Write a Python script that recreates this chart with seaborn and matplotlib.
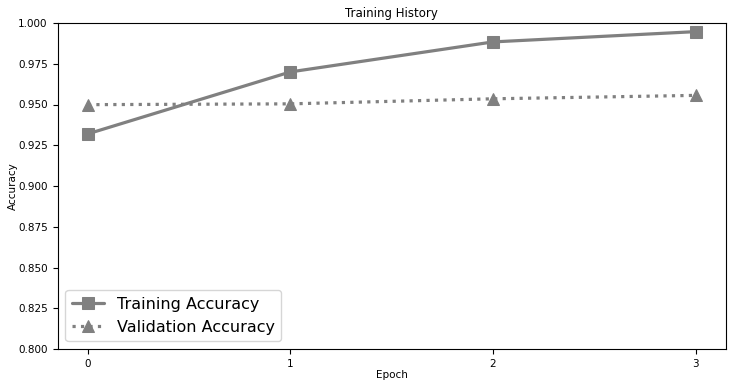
import matplotlib
matplotlib.use("Agg")
import matplotlib.pyplot as plt
import seaborn as sns
import pandas as pd

epochs = [0, 1, 2, 3]
train_acc = [0.932, 0.970, 0.9884, 0.9947]
val_acc = [0.9499, 0.9504, 0.9535, 0.9556]

sns.set_style("ticks")
plt.rcParams['font.family'] = ['DejaVu Sans']
plt.rcParams['text.color'] = 'black'
plt.rcParams['axes.labelcolor'] = 'black'

fig = plt.figure(figsize=(7.33, 3.87), dpi=100)
ax = fig.add_axes([57.5/733, 1-349/387, (726-57.5)/733, (349-23)/387])

df_t = pd.DataFrame({"Epoch": epochs, "Accuracy": train_acc})
df_v = pd.DataFrame({"Epoch": epochs, "Accuracy": val_acc})
sns.lineplot(data=df_t, x="Epoch", y="Accuracy", ax=ax, color="gray", linewidth=2.3,
             marker="s", markersize=8.5, markeredgecolor="gray", label="Training Accuracy")
sns.lineplot(data=df_v, x="Epoch", y="Accuracy", ax=ax, color="gray", linewidth=2.3,
             linestyle=":", marker="^", markersize=8.5, markeredgecolor="gray", label="Validation Accuracy")

yt = [0.8, 0.825, 0.85, 0.875, 0.9, 0.925, 0.95, 0.975, 1.0]
ax.set_ylim(0.8, 1.0)
ax.set_xticks(epochs)
ax.set_yticks(yt)
ax.set_yticklabels([f"{v:.3f}" for v in yt])
ax.tick_params(labelsize=7.5, length=3.5, width=0.8, colors="black")
for s in ax.spines.values():
    s.set_visible(True)
    s.set_linewidth(0.8)
    s.set_color("black")
ax.set_title("Training History", fontsize=8.5, pad=4, color="black")
ax.set_xlabel("Epoch", fontsize=7.5, labelpad=1)
ax.set_ylabel("Accuracy", fontsize=7.5, labelpad=0)
leg = ax.legend(loc="lower left", fontsize=11.5, handlelength=2.0)
for t in leg.get_texts():
    t.set_color("black")

fig.savefig("out.png", dpi=100)
